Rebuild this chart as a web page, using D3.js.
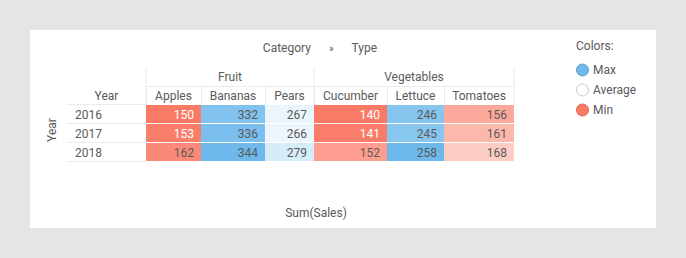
<!DOCTYPE html>
<html>
<head>
<meta charset="utf-8">
<script src="https://cdn.jsdelivr.net/npm/d3@7"></script>
<style>
  body { margin: 0; background: #e5e5e5; }
  svg { display: block; font-family: Roboto, sans-serif; }
</style>
</head>
<body>
<svg id="chart"></svg>
<script>
const width = 686;
const height = 258;

// data
const years = ["2016", "2017", "2018"];
const categories = ["Fruit", "Vegetables"];
const types = ["Apples", "Bananas", "Pears", "Cucumber", "Lettuce", "Tomatoes"];
const typeCategory = ["Fruit", "Fruit", "Fruit", "Vegetables", "Vegetables", "Vegetables"];
const apples = [150, 153, 162];
const bananas = [332, 336, 344];
const pears = [267, 266, 279];
const cucumber = [140, 141, 152];
const lettuce = [246, 245, 258];
const tomatoes = [156, 161, 168];
const legendLabels = ["Max", "Average", "Min"];

const series = [apples, bananas, pears, cucumber, lettuce, tomatoes];

// layout
const colWidths = [55, 64, 49, 73, 57, 70];
const rowHeaderX = 67;
const rowHeaderW = 79;
const tableTop = 67;
const headH = 19;
const rowH = 19;

const red = "#fb7a66";
const blue = "#6db9eb";
const textColor = "#5a5a5a";
const gridColor = "#ebebeb";

const svg = d3.select("#chart")
    .attr("width", width)
    .attr("height", height);

svg.append("rect")
    .attr("x", 30).attr("y", 30)
    .attr("width", 626).attr("height", 198)
    .attr("fill", "#fff");

const bodyX = rowHeaderX + rowHeaderW;
const edges = [0, ...d3.cumsum(colWidths)].map(d => bodyX + d);
const xLeft = d3.scaleOrdinal().domain(types).range(edges.slice(0, -1));
const colW = d3.scaleOrdinal().domain(types).range(colWidths);

const yScale = d3.scaleBand()
    .domain(years)
    .range([tableTop + 2 * headH, tableTop + 2 * headH + years.length * rowH]);

// one colour scale per category: min -> red, mean -> white, max -> blue
const colorByCat = {};
categories.forEach(cat => {
    const vals = types.flatMap((t, i) => typeCategory[i] === cat ? series[i] : []);
    const [mn, mx] = d3.extent(vals);
    colorByCat[cat] = d3.scaleLinear()
        .domain([mn, d3.mean(vals), mx])
        .range([red, "#ffffff", blue])
        .interpolate(d3.interpolateRgb);
    colorByCat[cat].minMean = [mn, d3.mean(vals)];
});

const cells = [];
types.forEach((t, i) => {
    years.forEach((y, j) => {
        cells.push({ type: t, year: y, cat: typeCategory[i], value: series[i][j] });
    });
});

const g = svg.append("g");

// header grid lines
const catSpans = categories.map(cat => {
    const ts = types.filter((t, i) => typeCategory[i] === cat);
    const x0 = xLeft(ts[0]);
    const x1 = xLeft(ts[ts.length - 1]) + colW(ts[ts.length - 1]);
    return { cat, x0, x1 };
});

catSpans.forEach(s => {
    g.append("line")
        .attr("x1", s.x0).attr("x2", s.x0)
        .attr("y1", tableTop).attr("y2", tableTop + 2 * headH)
        .attr("stroke", gridColor);
});
g.append("line")
    .attr("x1", edges[edges.length - 1]).attr("x2", edges[edges.length - 1])
    .attr("y1", tableTop).attr("y2", tableTop + 2 * headH)
    .attr("stroke", gridColor);
g.append("line")
    .attr("x1", bodyX).attr("x2", edges[edges.length - 1])
    .attr("y1", tableTop + headH + 0.5).attr("y2", tableTop + headH + 0.5)
    .attr("stroke", gridColor);
types.forEach(t => {
    g.append("line")
        .attr("x1", xLeft(t) + 0.5).attr("x2", xLeft(t) + 0.5)
        .attr("y1", tableTop + headH).attr("y2", tableTop + 2 * headH)
        .attr("stroke", gridColor);
});

// row header lines
[tableTop + 2 * headH, ...years.map(y => yScale(y) + yScale.bandwidth())].forEach(yy => {
    g.append("line")
        .attr("x1", rowHeaderX).attr("x2", bodyX)
        .attr("y1", yy - 0.5).attr("y2", yy - 0.5)
        .attr("stroke", gridColor);
});

// category headers
g.selectAll(".cat")
    .data(catSpans)
    .join("text")
    .attr("x", d => (d.x0 + d.x1) / 2)
    .attr("y", tableTop + headH / 2 + 4)
    .attr("text-anchor", "middle")
    .attr("font-size", 12)
    .attr("fill", textColor)
    .text(d => d.cat);

// type headers
g.selectAll(".type")
    .data(types)
    .join("text")
    .attr("x", d => xLeft(d) + colW(d) / 2)
    .attr("y", tableTop + headH + headH / 2 + 4)
    .attr("text-anchor", "middle")
    .attr("font-size", 12)
    .attr("fill", textColor)
    .text(d => d);

g.append("text")
    .attr("x", rowHeaderX + rowHeaderW / 2)
    .attr("y", tableTop + headH + headH / 2 + 4)
    .attr("text-anchor", "middle")
    .attr("font-size", 12)
    .attr("fill", textColor)
    .text("Year");

// row labels
g.selectAll(".year")
    .data(years)
    .join("text")
    .attr("x", rowHeaderX + 8)
    .attr("y", d => yScale(d) + yScale.bandwidth() / 2 + 4)
    .attr("font-size", 12)
    .attr("fill", textColor)
    .text(d => d);

// cells
g.selectAll(".cell")
    .data(cells)
    .join("rect")
    .attr("x", d => xLeft(d.type))
    .attr("y", d => yScale(d.year))
    .attr("width", d => colW(d.type))
    .attr("height", yScale.bandwidth() - 1)
    .attr("fill", d => colorByCat[d.cat](d.value));

g.selectAll(".val")
    .data(cells)
    .join("text")
    .attr("x", d => xLeft(d.type) + colW(d.type) - 7)
    .attr("y", d => yScale(d.year) + yScale.bandwidth() / 2 + 4)
    .attr("text-anchor", "end")
    .attr("font-size", 12)
    .attr("fill", d => {
        const [mn, mean] = colorByCat[d.cat].minMean;
        const t = (mean - d.value) / (mean - mn);
        return t > 0.95 ? "#fff" : textColor;
    })
    .text(d => d.value);

// titles
const title = svg.append("text")
    .attr("x", 320)
    .attr("y", 52)
    .attr("text-anchor", "middle")
    .attr("font-size", 12)
    .attr("fill", textColor);
title.append("tspan").text("Category");
title.append("tspan").attr("dx", 18).attr("font-size", 10).text("»");
title.append("tspan").attr("dx", 18).text("Type");

svg.append("text")
    .attr("transform", "translate(56,130) rotate(-90)")
    .attr("text-anchor", "middle")
    .attr("font-size", 12)
    .attr("fill", textColor)
    .text("Year");

svg.append("text")
    .attr("x", 316)
    .attr("y", 217)
    .attr("text-anchor", "middle")
    .attr("font-size", 12)
    .attr("fill", textColor)
    .text("Sum(Sales)");

// legend
const legend = svg.append("g").attr("transform", "translate(576,0)");
legend.append("text")
    .attr("x", 0).attr("y", 50)
    .attr("font-size", 12)
    .attr("fill", textColor)
    .text("Colors:");

const legendColors = [blue, "#ffffff", red];
const ly = d3.scalePoint().domain(legendLabels).range([70, 110]);
legend.selectAll(".lc")
    .data(legendLabels)
    .join("circle")
    .attr("cx", 6.5)
    .attr("cy", d => ly(d))
    .attr("r", 6)
    .attr("fill", (d, i) => legendColors[i])
    .attr("stroke", (d, i) => i === 1 ? "#c8c8c8" : d3.color(legendColors[i]).darker(0.4))
    .attr("stroke-width", 1);
legend.selectAll(".lt")
    .data(legendLabels)
    .join("text")
    .attr("x", 17)
    .attr("y", d => ly(d) + 4)
    .attr("font-size", 12)
    .attr("fill", textColor)
    .text(d => d);
</script>
</body>
</html>
